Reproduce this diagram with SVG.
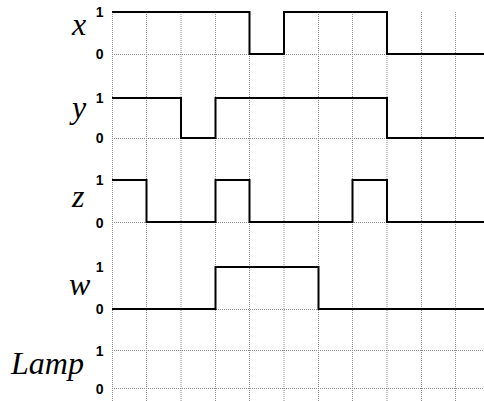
<svg xmlns="http://www.w3.org/2000/svg" width="484" height="401" viewBox="0 0 484 401">
<style>
.grid{stroke:#8c8c8c;stroke-width:1;stroke-dasharray:1 1;fill:none}
.sig{stroke:#000;stroke-width:2;fill:none}
.lbl{font-family:"Liberation Serif",serif;font-style:italic;font-size:32px;fill:#000}
.num{font-family:"Liberation Sans",Arial,sans-serif;font-size:14px;font-weight:bold;fill:#000;text-anchor:end}
</style>
<rect width="484" height="401" fill="#fff"/>
<g id="grid">
<path class="grid" d="M112.5 12V401M146.5 12V401M181 12V401M215.5 12V401M249.5 12V401M284 12V401M318.5 12V401M352.5 12V401M387 12V401M421.5 12V401M455.5 12V401"/>
<path class="grid" d="M112 54.5H484M112 138.5H484M112 222.5H484M112 309.5H484M112 350.5H484M112 388.5H484"/>
</g>
<g id="x">
<text class="lbl" x="72" y="35">x</text>
<text class="num" x="103.5" y="17">1</text>
<text class="num" x="103.5" y="59">0</text>
<path class="sig" d="M112 12H249.5V54H284V12H387V54H484"/>
</g>
<g id="y">
<text class="lbl" x="72" y="118">y</text>
<text class="num" x="103.5" y="103">1</text>
<text class="num" x="103.5" y="143">0</text>
<path class="sig" d="M112 98H181V138H215.5V98H387V138H484"/>
</g>
<g id="z">
<text class="lbl" x="72" y="207">z</text>
<text class="num" x="103.5" y="185">1</text>
<text class="num" x="103.5" y="228">0</text>
<path class="sig" d="M112 180H146.5V222H215.5V180H249.5V222H352.5V180H387V222H484"/>
</g>
<g id="w">
<text class="lbl" x="69" y="295">w</text>
<text class="num" x="103.5" y="272">1</text>
<text class="num" x="103.5" y="314">0</text>
<path class="sig" d="M112 309H215.5V267H318.5V309H484"/>
</g>
<g id="lamp">
<text class="lbl" x="11" y="374">Lamp</text>
<text class="num" x="103.5" y="356">1</text>
<text class="num" x="103.5" y="394">0</text>
</g>
</svg>
